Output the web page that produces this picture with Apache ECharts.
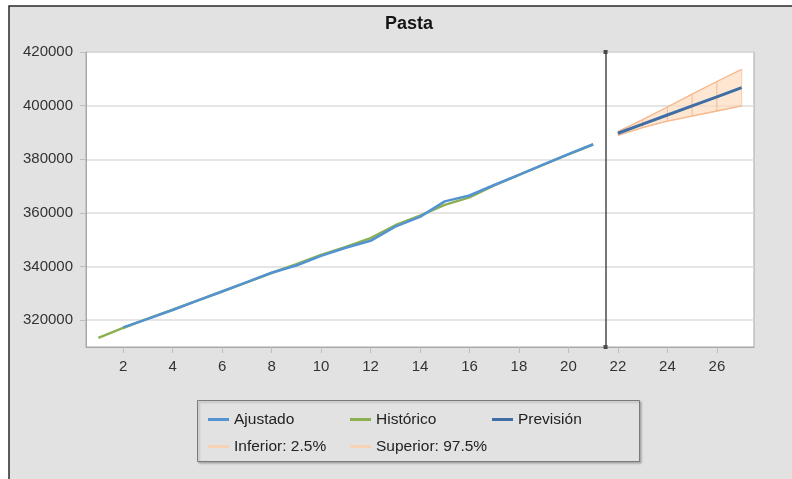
<!DOCTYPE html>
<html>
<head>
<meta charset="utf-8">
<script src="https://cdn.jsdelivr.net/npm/echarts@6/dist/echarts.min.js"></script>
<style>
  html, body { margin: 0; padding: 0; background: #ffffff; }
  #chart { width: 792px; height: 479px; }
</style>
</head>
<body>
<div id="chart"></div>
<script>
// Periods of the historical series
const histPeriods = [1, 2, 3, 4, 5, 6, 7, 8, 9, 10, 11, 12, 13, 14, 15, 16, 17, 18, 19, 20, 21];
const historico = [313400, 317100, 320600, 323900, 327300, 330700, 334100, 337600, 340900, 344300,
                   347300, 350600, 355400, 359000, 363000, 365800, 370300, 374200, 378000, 381800, 385500];

// Fitted model values (from period 2)
const fitPeriods = [2, 3, 4, 5, 6, 7, 8, 9, 10, 11, 12, 13, 14, 15, 16, 17, 18, 19, 20, 21];
const ajustado = [317300, 320500, 323800, 327300, 330700, 334200, 337700, 340400, 344000, 347000,
                  349600, 354900, 358500, 364300, 366500, 370400, 374200, 378100, 381900, 385600];

// Forecast horizon with 95% interval bounds
const fcPeriods = [22, 23, 24, 25, 26, 27];
const prevision = [389700, 393100, 396500, 399900, 403300, 406700];
const inferior  = [388900, 391800, 394200, 396100, 398000, 399900];
const superior  = [390300, 394800, 399500, 404300, 409000, 413500];

// Axis labels
const xTicks = [2, 4, 6, 8, 10, 12, 14, 16, 18, 20, 22, 24, 26];
const yTicks = [320000, 340000, 360000, 380000, 400000, 420000];
const splitPeriod = 21.5;

const pairs = (xs, ys) => xs.map((x, i) => [x, ys[i]]);

const FONT = '"Liberation Sans", Arial, sans-serif';
const C_AJUST = '#5393d3';
const C_HIST = '#8cb051';
const C_PREV = '#3f6ea6';
const C_BAND = '#f6b98e';
const C_BAND_LEGEND = '#f8d2b4';
const C_FRAME = '#a8a8a8';

const chart = echarts.init(document.getElementById('chart'), null, { renderer: 'canvas' });

chart.setOption({
  animation: false,
  backgroundColor: '#ffffff',
  textStyle: { fontFamily: FONT },
  graphic: [
    {
      type: 'rect', z: -10, silent: true,
      shape: { x: 9, y: 6, width: 800, height: 490 },
      style: { fill: '#e2e2e2', stroke: '#2a2a2a', lineWidth: 1.5 }
    },
    {
      type: 'rect', z: -5, silent: true,
      shape: { x: 197.5, y: 400.5, width: 442, height: 61 },
      style: {
        fill: '#e2e2e2', stroke: '#7a7a7a', lineWidth: 1,
        shadowColor: 'rgba(0,0,0,0.25)', shadowBlur: 2, shadowOffsetX: 1.5, shadowOffsetY: 1.5
      }
    }
  ],
  title: {
    text: 'Pasta',
    left: 404, top: 9, textAlign: 'center',
    textStyle: { fontFamily: FONT, fontSize: 18, fontWeight: 'bold', color: '#151515', lineHeight: 20 }
  },
  grid: {
    left: 86, top: 52, width: 668, height: 295,
    show: true, backgroundColor: '#ffffff', borderColor: C_FRAME, borderWidth: 1,
    containLabel: false
  },
  xAxis: {
    type: 'value', min: 0.5, max: 27.5,
    axisLine: { show: true, lineStyle: { color: C_FRAME, width: 1 } },
    splitLine: { show: false },
    axisTick: { show: true, length: 6, customValues: xTicks, lineStyle: { color: '#bdbdbd', width: 1 } },
    axisLabel: { customValues: xTicks, margin: 12, fontSize: 15, color: '#333', fontFamily: FONT }
  },
  yAxis: {
    type: 'value', min: 310000, max: 420000,
    axisLine: { show: true, lineStyle: { color: C_FRAME, width: 1 } },
    axisTick: { show: true, length: 6, customValues: yTicks, lineStyle: { color: '#bdbdbd', width: 1 } },
    splitLine: { show: true, lineStyle: { color: '#dcdcdc', width: 1.5 } },
    axisLabel: {
      customValues: yTicks, margin: 13, fontSize: 15, color: '#333', fontFamily: FONT,
      formatter: (v) => String(Math.round(v))
    }
  },
  legend: {
    left: 208, top: 411, width: 430, padding: 0,
    itemWidth: 21, itemHeight: 3, itemGap: 10, icon: 'rect',
    textStyle: { fontFamily: FONT, fontSize: 15.5, color: '#222', width: 106, lineHeight: 17, overflow: 'none' },
    data: [
      { name: 'Ajustado' },
      { name: 'Histórico' },
      { name: 'Previsión' },
      { name: 'Inferior: 2.5%', itemStyle: { color: C_BAND_LEGEND } },
      { name: 'Superior: 97.5%', itemStyle: { color: C_BAND_LEGEND } }
    ]
  },
  series: [
    {
      // shaded interval band, one cell per forecast step
      name: 'Intervalo',
      type: 'custom',
      z: 1,
      silent: true,
      data: fcPeriods.map((x, i) => [x, inferior[i], superior[i]]),
      encode: { x: 0, y: [1, 2] },
      renderItem: function (params, api) {
        const i = params.dataIndex;
        if (i >= fcPeriods.length - 1) return null;
        const a = api.coord([fcPeriods[i], inferior[i]]);
        const b = api.coord([fcPeriods[i + 1], inferior[i + 1]]);
        const c = api.coord([fcPeriods[i + 1], superior[i + 1]]);
        const d = api.coord([fcPeriods[i], superior[i]]);
        return {
          type: 'polygon',
          shape: { points: [a, b, c, d] },
          style: { fill: 'rgba(252,218,188,0.65)', stroke: 'rgba(246,180,135,0.6)', lineWidth: 1 }
        };
      }
    },
    {
      name: 'Inferior: 2.5%', type: 'line', z: 2,
      data: pairs(fcPeriods, inferior),
      showSymbol: false, symbol: 'none',
      itemStyle: { color: C_BAND_LEGEND },
      lineStyle: { color: C_BAND, width: 1.3 }
    },
    {
      name: 'Superior: 97.5%', type: 'line', z: 2,
      data: pairs(fcPeriods, superior),
      showSymbol: false, symbol: 'none',
      itemStyle: { color: C_BAND_LEGEND },
      lineStyle: { color: C_BAND, width: 1.3 }
    },
    {
      name: 'Histórico', type: 'line', z: 3,
      data: pairs(histPeriods, historico),
      showSymbol: false, symbol: 'none',
      itemStyle: { color: C_HIST },
      lineStyle: { color: C_HIST, width: 2.5 }
    },
    {
      name: 'Ajustado', type: 'line', z: 4,
      data: pairs(fitPeriods, ajustado),
      showSymbol: false, symbol: 'none',
      itemStyle: { color: C_AJUST },
      lineStyle: { color: C_AJUST, width: 2.5 }
    },
    {
      name: 'Previsión', type: 'line', z: 5,
      data: pairs(fcPeriods, prevision),
      showSymbol: false, symbol: 'none',
      itemStyle: { color: C_PREV },
      lineStyle: { color: C_PREV, width: 3 },
      markLine: {
        silent: true,
        symbol: ['rect', 'rect'], symbolSize: [4, 4],
        label: { show: false },
        lineStyle: { color: '#4a4a4a', width: 1.5, type: 'solid' },
        data: [{ xAxis: splitPeriod }]
      }
    }
  ]
});
</script>
</body>
</html>
